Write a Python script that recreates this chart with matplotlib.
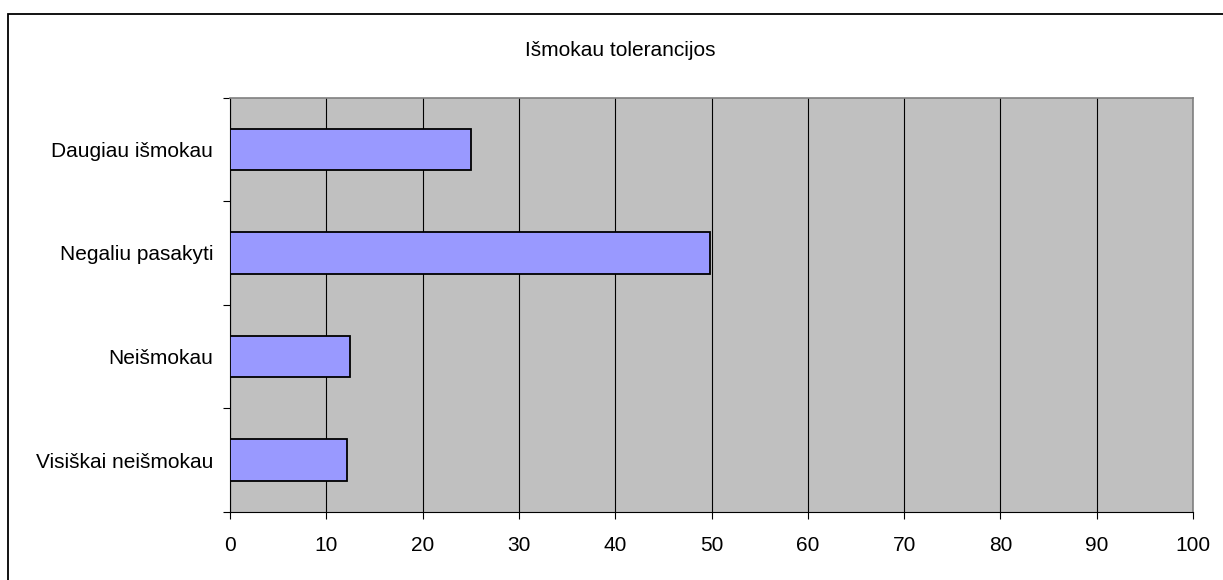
import matplotlib
matplotlib.use("Agg")
import matplotlib.pyplot as plt
from matplotlib.patches import Rectangle

categories = ["Daugiau išmokau", "Negaliu pasakyti", "Neišmokau", "Visiškai neišmokau"]
values = [25.0, 49.8, 12.5, 12.1]
xticks = [0, 10, 20, 30, 40, 50, 60, 70, 80, 90, 100]
title = "Išmokau tolerancijos"

plt.rcParams['font.family'] = ['Liberation Sans', 'DejaVu Sans']

W, H = 1223, 580
fig = plt.figure(figsize=(W / 100, H / 100), dpi=100)
fig.patch.set_facecolor("white")

# outer chart border
fig.patches.append(Rectangle((8 / W, -0.05), 1.2, 1.05 - 14 / H, transform=fig.transFigure,
                             fill=False, edgecolor="black", linewidth=1.3, figure=fig))

left, right, top, bottom = 230, 1193, 97.5, 512
ax = fig.add_axes([left / W, 1 - bottom / H, (right - left) / W, (bottom - top) / H])
ax.set_facecolor("#c0c0c0")

n = len(categories)
ypos = list(range(n))[::-1]
ax.barh(ypos, values, height=0.4, color="#9999ff", edgecolor="black", linewidth=1.3, zorder=3)

ax.set_xlim(0, 100)
ax.set_ylim(-0.5, n - 0.5)
ax.set_xticks(xticks)
ax.set_xticklabels([str(v) for v in xticks], fontsize=15)
ax.set_yticks(ypos)
ax.set_yticklabels(categories, fontsize=15)
ax.tick_params(axis="y", length=0, pad=12)
ax.set_yticks([i + 0.5 for i in range(-1, n)], minor=True)
ax.tick_params(axis="y", which="minor", length=5, width=0.8, direction="out")
ax.tick_params(axis="x", length=5, width=0.8, direction="out", pad=12)

ax.grid(axis="x", color="black", linewidth=0.8, zorder=1)
ax.set_axisbelow(True)
for side in ["top", "right"]:
    ax.spines[side].set_color("#808080")
    ax.spines[side].set_linewidth(1.2)
for side in ["left", "bottom"]:
    ax.spines[side].set_color("black")
    ax.spines[side].set_linewidth(0.8)

fig.text(620 / W, 1 - 51 / H, title, ha="center", va="center", fontsize=15)

fig.savefig("out.png", dpi=100)
